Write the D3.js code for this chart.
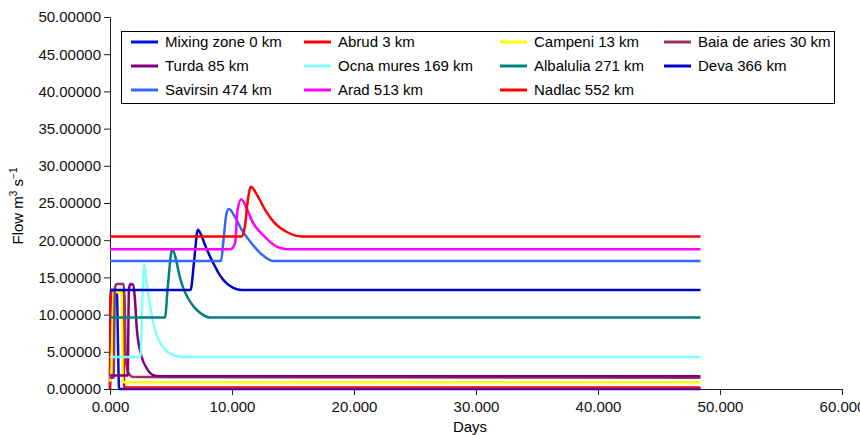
<!DOCTYPE html>
<html>
<head>
<meta charset="utf-8">
<script src="https://cdn.jsdelivr.net/npm/d3@7"></script>
<style>
  body { margin: 0; background: #fff; }
  text { font-family: "Liberation Sans", Arial, sans-serif; }
</style>
</head>
<body>
<script>
// series names, in legend / drawing order
var names = ["Mixing zone 0 km", "Abrud 3 km", "Campeni 13 km", "Baia de aries 30 km",
             "Turda 85 km", "Ocna mures 169 km", "Albalulia 271 km", "Deva 366 km",
             "Savirsin 474 km", "Arad 513 km", "Nadlac 552 km"];
var colors = ["#0010e0", "#ff0000", "#ffff00", "#993366",
              "#800080", "#80ffff", "#008080", "#0000cc",
              "#3366ff", "#ff00ff", "#ff0000"];

// [days, flow]
var mixing = [[0,0],[0.05,13.3],[0.55,13.3],[0.75,0],[48.4,0]];
var abrud = [[0,0],[0.1,13.2],[1.1,13.2],[1.15,0.2],[48.4,0.2]];
var campeni = [[0,1],[0.1,2],[0.3,13],[0.95,13],[1.05,0.9],[48.4,0.9]];
var baia = [[0,1.5],[0.3,1.5],[0.4,13.5],[0.55,14.1],[1.1,14.1],[1.2,12],[1.3,4],[1.5,2.2],[1.9,1.6],[48.4,1.5]];
var turda = [[0,1.8],[1.45,1.8],[1.55,13.5],[1.7,14.1],[1.9,14],[2.05,12],[2.2,8],[2.6,4.3],[3.0,2.8],[3.5,1.9],[4.1,1.7],[48.4,1.7]];
var ocna = [[0,4.3],[2.5,4.3],[2.65,12],[2.8,16.7],[3.0,14.2],[3.3,11],[3.7,7.9],[4.35,5.6],[5.5,4.4],[6.2,4.3],[48.4,4.3]];
var albalulia = [[0,9.6],[4.5,9.6],[4.75,14],[5.1,18.8],[5.4,17.5],[5.7,15.2],[6.0,13.6],[6.4,12.2],[6.9,11.0],[7.5,10.1],[8.2,9.6],[48.4,9.6]];
var deva = [[0,13.3],[6.6,13.3],[6.9,17.3],[7.2,21.4],[7.5,20.6],[7.8,19.3],[8.2,17.8],[8.6,16.5],[9.0,15.3],[9.5,14.3],[10.1,13.6],[10.8,13.3],[48.4,13.3]];
var savirsin = [[0,17.2],[9.1,17.2],[9.3,20],[9.55,23.6],[9.75,24.2],[10.25,23.1],[10.8,21.4],[11.5,19.8],[12.3,18.3],[13.4,17.2],[48.4,17.2]];
var arad = [[0,18.8],[9.9,18.8],[10.25,19.6],[10.45,24],[10.75,25.5],[11.2,24.3],[11.7,22.4],[12.55,20.7],[13.7,19.1],[14.5,18.8],[48.4,18.8]];
var nadlac = [[0,20.5],[10.8,20.5],[11.05,21.8],[11.3,25.4],[11.55,27.2],[12.05,26.1],[12.7,24.1],[13.5,22.3],[14.5,21.1],[15.7,20.5],[48.4,20.5]];

var series = [mixing, abrud, campeni, baia, turda, ocna, albalulia, deva, savirsin, arad, nadlac];

var xTicks = [0, 10, 20, 30, 40, 50, 60];
var yTicks = [0, 5, 10, 15, 20, 25, 30, 35, 40, 45, 50];

function draw()
{
    var width = 860, height = 435;
    var left = 110, right = 842, top = 17, bottom = 389;

    var svg = d3.select("body").append("svg")
        .attr("width", width)
        .attr("height", height);

    var x = d3.scaleLinear().domain([0, 60]).range([left, right]);
    var y = d3.scaleLinear().domain([0, 50]).range([bottom, top]);

    // axes
    var xAxis = d3.axisBottom(x).tickValues(xTicks).tickFormat(d3.format(".3f"))
        .tickSizeOuter(0).tickSize(6).tickPadding(6);
    var yAxis = d3.axisLeft(y).tickValues(yTicks).tickFormat(d3.format(".5f"))
        .tickSizeOuter(0).tickSize(6).tickPadding(3);

    var gx = svg.append("g").attr("transform", "translate(0," + bottom + ")").call(xAxis);
    var gy = svg.append("g").attr("transform", "translate(" + left + ",0)").call(yAxis);
    [gx, gy].forEach(function (g)
    {
        g.selectAll("text").style("font-size", "15px").attr("fill", "#111")
         .style("font-family", "'Liberation Sans', Arial, sans-serif");
        g.selectAll("line, path").attr("stroke", "#222");
    });

    // lines
    var line = d3.line()
        .x(function (d) { return x(d[0]); })
        .y(function (d) { return y(d[1]); })
        .curve(d3.curveMonotoneX);

    svg.append("g").selectAll("path")
        .data(series)
        .enter()
        .append("path")
        .attr("d", line)
        .attr("fill", "none")
        .attr("stroke", function (d, i) { return colors[i]; })
        .attr("stroke-width", 2.5)
        .attr("stroke-linejoin", "round");

    // axis titles
    svg.append("text")
        .attr("x", 470).attr("y", 432)
        .attr("text-anchor", "middle")
        .style("font-size", "15px")
        .text("Days");

    var yt = svg.append("text")
        .attr("transform", "translate(23,206) rotate(-90)")
        .attr("text-anchor", "middle")
        .style("font-size", "15px");
    yt.append("tspan").text("Flow m");
    yt.append("tspan").attr("dy", -6).style("font-size", "10px").text("3");
    yt.append("tspan").attr("dy", 6).text(" s");
    yt.append("tspan").attr("dy", -6).style("font-size", "10px").text("\u22121");

    // legend
    var lg = svg.append("g");
    lg.append("rect")
        .attr("x", 121.5).attr("y", 31.5)
        .attr("width", 713).attr("height", 72)
        .attr("fill", "#fff").attr("stroke", "#000").attr("stroke-width", 1);

    var colX = [131, 304, 500, 664];
    var rowY = [42, 66, 90];
    var items = lg.selectAll("g.item")
        .data(names)
        .enter()
        .append("g")
        .attr("transform", function (d, i)
        {
            return "translate(" + colX[i % 4] + "," + rowY[Math.floor(i / 4)] + ")";
        });
    items.append("line")
        .attr("x1", 0).attr("x2", 27)
        .attr("stroke", function (d, i) { return colors[i]; })
        .attr("stroke-width", 3);
    items.append("text")
        .attr("x", 34).attr("y", 5)
        .style("font-size", "15px")
        .text(function (d) { return d; });
}
window.onload = draw;
</script>
</body>
</html>
